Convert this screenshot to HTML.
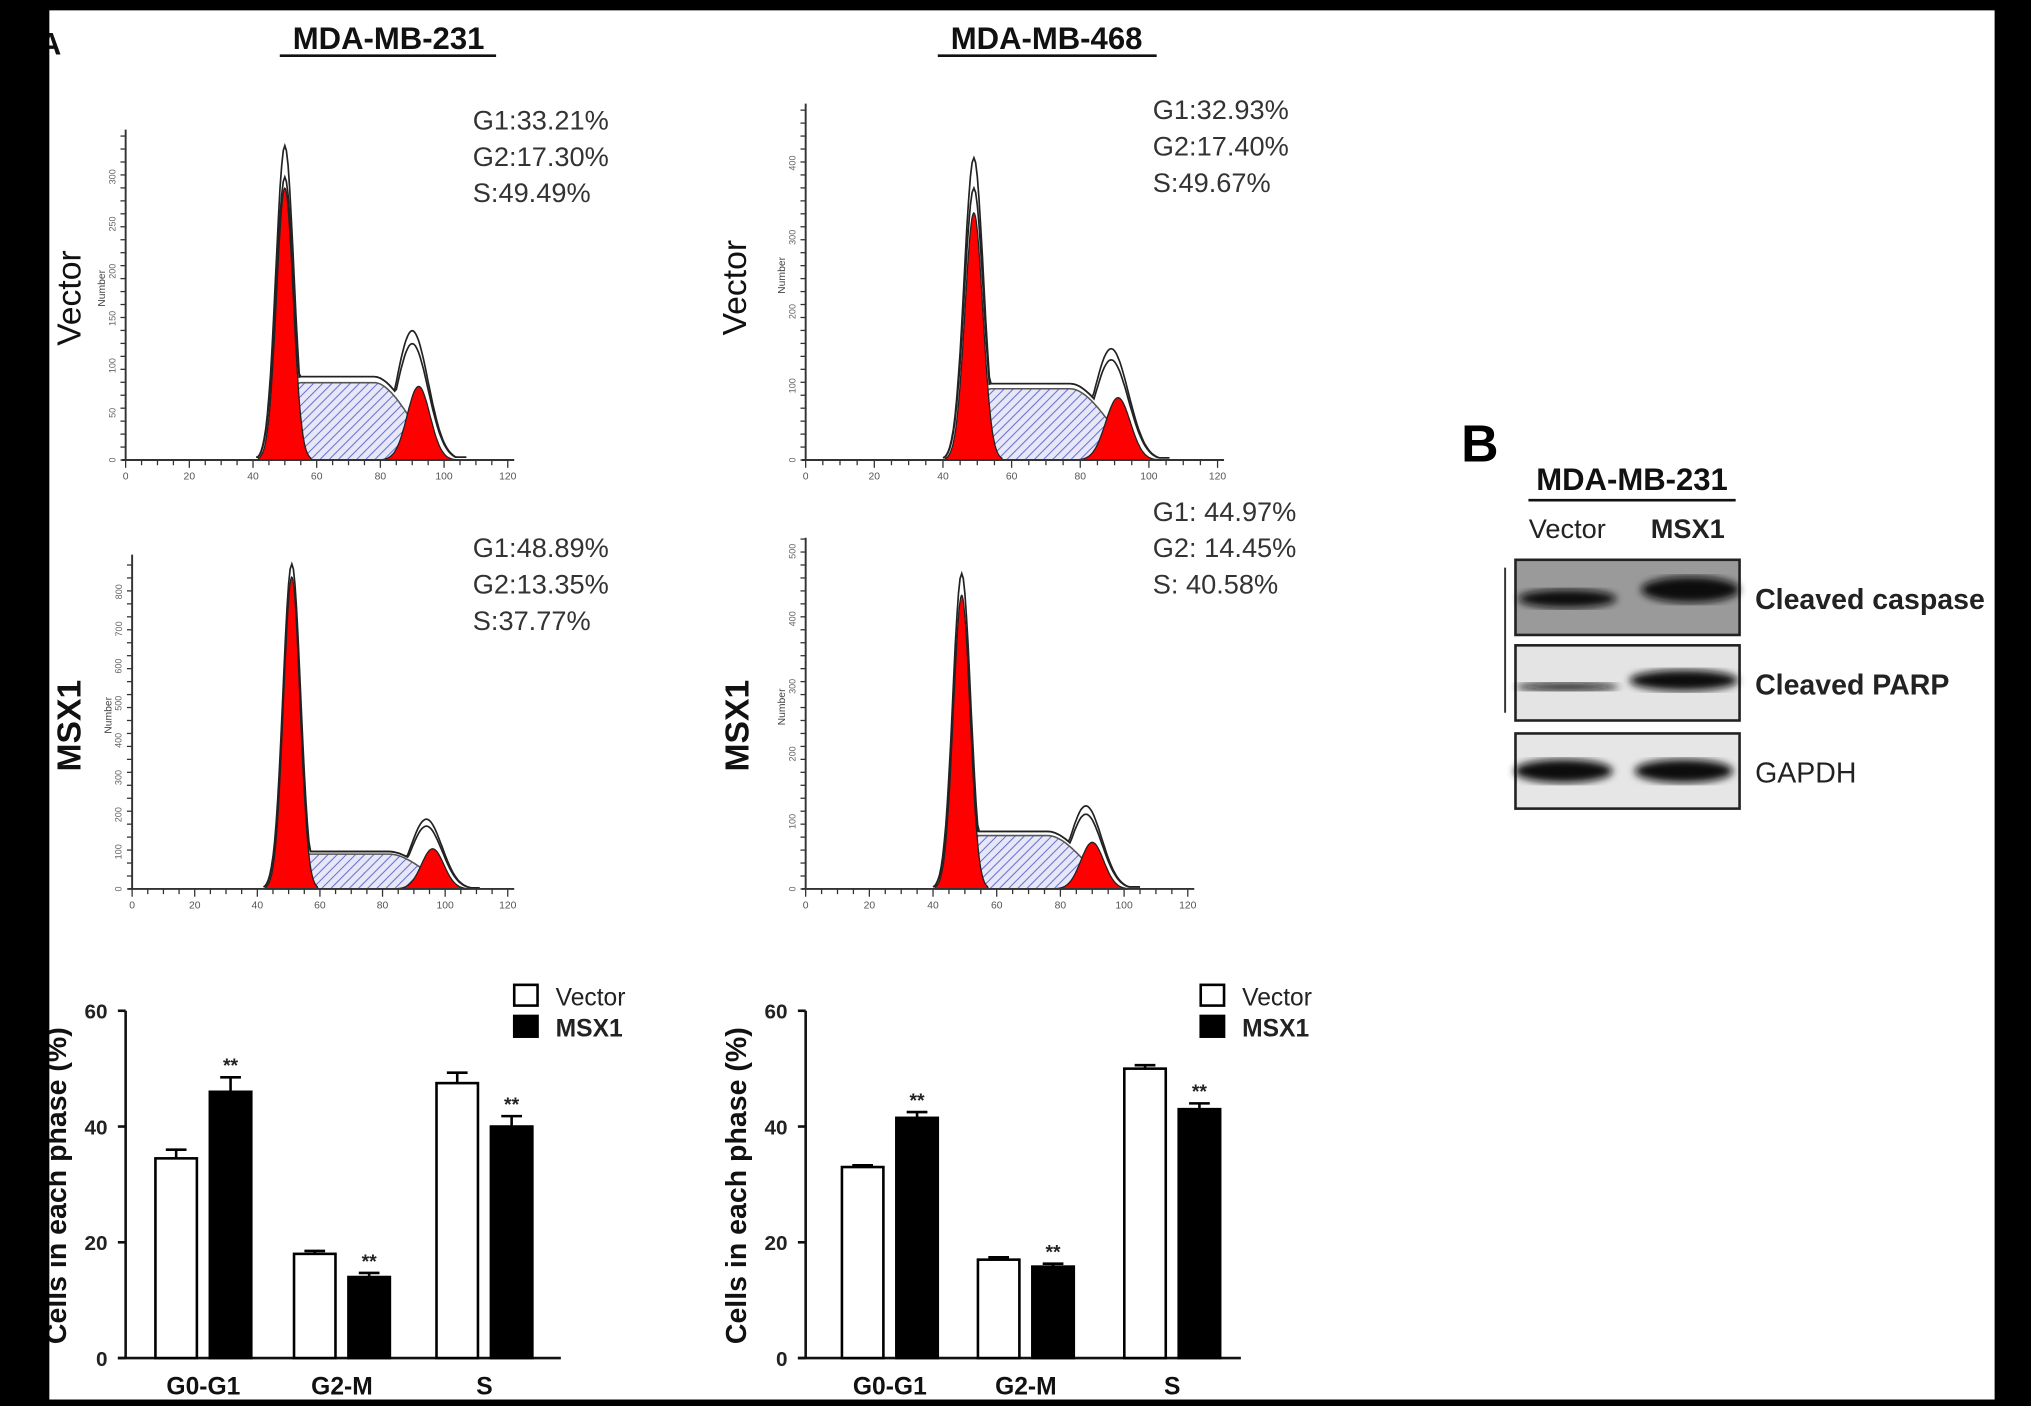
<!DOCTYPE html>
<html><head><meta charset="utf-8"><style>
html,body{margin:0;padding:0;background:#000;}
svg{display:block;}
text{font-family:"Liberation Sans",Arial,sans-serif;}
</style></head><body>
<svg id="fig" width="2031" height="1406" viewBox="0 0 1568 1085" preserveAspectRatio="none" xmlns="http://www.w3.org/2000/svg">
<defs>
<pattern id="hatch" patternUnits="userSpaceOnUse" width="5" height="5" patternTransform="rotate(45)">
<rect width="5" height="5" fill="#e6e8f8"/><line x1="0" y1="0" x2="0" y2="5" stroke="#6a6fd0" stroke-width="1.6"/>
</pattern>
<filter id="blur"><feGaussianBlur stdDeviation="3"/></filter>
</defs>
<rect x="0" y="0" width="1568" height="1085" fill="#000"/>
<rect x="38" y="8" width="1502" height="1072" fill="#fff"/>
<g id="root"></g>
</svg>
<script>
// ---------- histogram data ----------
const histNames = ["hist-231-vector","hist-468-vector","hist-231-msx1","hist-468-msx1"];
const histG1Mean = [50, 49, 51, 49];
const histG1Height = [288, 333, 840, 435];
const histOuterG1Height = [333, 407, 875, 467];
const histG2Mean = [92, 91, 96, 90];
const histG2Height = [78, 84, 108, 69];
const histOuterG2Height = [137, 150, 188, 123];
const histSHeight = [82, 96, 94, 79];
const histYMax = [350, 480, 900, 520];
const histYTicks = [[0,50,100,150,200,250,300],[0,100,200,300,400],[0,100,200,300,400,500,600,700,800],[0,100,200,300,400,500]];
const histXTicks = [0,20,40,60,80,100,120];
const histStats = [["G1:33.21%","G2:17.30%","S:49.49%"],["G1:32.93%","G2:17.40%","S:49.67%"],["G1:48.89%","G2:13.35%","S:37.77%"],["G1: 44.97%","G2: 14.45%","S:    40.58%"]];
// layout (not data)
const histBox = [
 {x0:97,x1:397,y0:355,y1:100,sx:380,sy:100},
 {x0:622,x1:945,y0:355,y1:80,sx:905,sy:92},
 {x0:102,x1:397,y0:686,y1:428,sx:380,sy:430},
 {x0:622,x1:922,y0:686,y1:415,sx:905,sy:402}
];
// ---------- bar chart data ----------
const barCategories = ["G0-G1","G2-M","S"];
const barVector231 = [34.5, 18, 47.5];
const barMsx231 = [46, 14, 40];
const barErrV231 = [1.5, 0.5, 1.8];
const barErrM231 = [2.5, 0.7, 1.8];
const barVector468 = [33, 17, 50];
const barMsx468 = [41.5, 15.8, 43];
const barErrV468 = [0.3, 0.4, 0.6];
const barErrM468 = [1, 0.5, 1];
const barYTicks = [0,20,40,60];

const NS="http://www.w3.org/2000/svg";
const root=document.getElementById('root');
function el(tag,attrs,parent,txt){const e=document.createElementNS(NS,tag);for(const k in attrs)e.setAttribute(k,attrs[k]);if(txt!==undefined)e.textContent=txt;(parent||root).appendChild(e);return e;}

// titles
let t=el('text',{x:300,y:38,'font-size':24,'font-weight':'bold','text-anchor':'middle',fill:'#111'},root,'MDA-MB-231');


let u=el('line',{x1:216,y1:43,x2:383,y2:43,stroke:'#111','stroke-width':2});


t=el('text',{x:808,y:38,'font-size':24,'font-weight':'bold','text-anchor':'middle',fill:'#111'},root,'MDA-MB-468');


u=el('line',{x1:724,y1:43,x2:893,y2:43,stroke:'#111','stroke-width':2});


t=el('text',{x:30,y:42,'font-size':24,'font-weight':'bold',fill:'#111'},root,'A');



// row labels
[["Vector",62,230,'row-label-vector-231'],["Vector",576,222,'row-label-vector-468'],["MSX1",62,560,'row-label-msx1-231'],["MSX1",578,560,'row-label-msx1-468']].forEach(r=>{
 const e=el('text',{x:r[1],y:r[2],'font-size':26,'font-weight':r[0]==='MSX1'?'bold':'normal','text-anchor':'middle',fill:'#111',transform:`rotate(-90 ${r[1]} ${r[2]})`},root,r[0]);
 
 
});

function gauss(x,m,s){return Math.exp(-0.5*((x-m)/s)**2);}
function smooth(a,b,x){if(x<=a)return 0;if(x>=b)return 1;const t=(x-a)/(b-a);return t*t*(3-2*t);}

for(let i=0;i<4;i++){
 const b=histBox[i];
 const g=el('g',{});
 
 
 const X=v=>b.x0+(v/120)*(b.x1-b.x0-5);
 const Y=v=>b.y0-(v/histYMax[i])*(b.y0-b.y1);
 const m1=histG1Mean[i],m2=histG2Mean[i];
 const sF=x=>histSHeight[i]*smooth(m1-7,m1+5,x)*(1-smooth(m2-14,m2+10,x));
 const g1F=x=>histG1Height[i]*gauss(x,m1,2.6);
 const g2F=x=>histG2Height[i]*gauss(x,m2,3.6);
 // outer envelopes (two lines) drawn first
 for(let k=0;k<2;k++){
  const sc=k===0?1:0.9;
  let de='';
  for(let x=m1-9;x<=m2+15;x+=0.5){
   const v=Math.max(histOuterG1Height[i]*sc*gauss(x,m1,2.8), sF(x)*1.04+3, histOuterG2Height[i]*sc*gauss(x,m2-2,5), 0);
   de+=(de?' L':'M')+X(x).toFixed(1)+','+Y(v).toFixed(1);
  }
  const ol=el('path',{d:de,fill:'none',stroke:'#222','stroke-width':1.3},g);
  
  
 }
 // S hatched
 let d=`M${X(m1-8)},${Y(0)}`;
 for(let x=m1-8;x<=m2+11;x+=0.5)d+=` L${X(x).toFixed(1)},${Y(sF(x)).toFixed(1)}`;
 d+=` L${X(m2+11)},${Y(0)} Z`;
 let p=el('path',{d,fill:'url(#hatch)',stroke:'#555','stroke-width':1.2},g);
 
 
 [[g1F,m1,2.6*3.2,'g1-peak'],[g2F,m2,3.6*3.2,'g2-peak']].forEach(([f,m,w,nm])=>{
  let dd=`M${X(m-w)},${Y(0)}`;
  for(let x=m-w;x<=m+w;x+=0.25)dd+=` L${X(x).toFixed(1)},${Y(f(x)).toFixed(1)}`;
  dd+=` L${X(m+w)},${Y(0)} Z`;
  const rp=el('path',{d:dd,fill:'#f00',stroke:'#222','stroke-width':1},g);
  
  
 });
 // axes
 let a=el('line',{x1:b.x0,y1:b.y0,x2:b.x0,y2:b.y1,stroke:'#333','stroke-width':1.5},g);
 
 
 a=el('line',{x1:b.x0-3,y1:b.y0,x2:b.x1,y2:b.y0,stroke:'#333','stroke-width':1.5},g);
 
 
 for(let v=0;v<=120;v+=5){const tk=el('line',{x1:X(v),y1:b.y0,x2:X(v),y2:b.y0+(v%20===0?6:4),stroke:'#333','stroke-width':1},g);}
 histXTicks.forEach(v=>{const tl=el('text',{x:X(v),y:b.y0+15,'font-size':8,'text-anchor':'middle',fill:'#555'},g,String(v));});
 for(let px=b.y0;px>=b.y1;px-=10){const tk=el('line',{x1:b.x0-4,y1:px,x2:b.x0,y2:px,stroke:'#333','stroke-width':1},g);}
 histYTicks[i].forEach(v=>{const yy=Y(v);const tl=el('text',{x:b.x0-8,y:yy,'font-size':7,'text-anchor':'middle',fill:'#666',transform:`rotate(-90 ${b.x0-8} ${yy})`},g,String(v));});
 const yt=el('text',{x:b.x0-16,y:(b.y0+b.y1)/2-5,'font-size':8,'text-anchor':'middle',fill:'#444',transform:`rotate(-90 ${b.x0-16} ${(b.y0+b.y1)/2-5})`},g,'Number');
 
 
 histStats[i].forEach((s,j)=>{const st=el('text',{x:b.sx-15,y:b.sy+j*28,'font-size':21,fill:'#333'},g,s);});
}

// ---------- bar charts ----------
function barChart(name,ax,vec,msx,ev,em,groupX,legX){
 const g=el('g',{});
 
 
 const y0=1048,y60=780;
 const Y=v=>y0-(v/60)*(y0-y60);
 let a=el('line',{x1:ax,y1:y0,x2:ax,y2:y60,stroke:'#111','stroke-width':2},g);
 
 
 a=el('line',{x1:ax-6,y1:y0,x2:ax+336,y2:y0,stroke:'#111','stroke-width':2},g);
 
 
 barYTicks.forEach(v=>{
  const tk=el('line',{x1:ax-6,y1:Y(v),x2:ax,y2:Y(v),stroke:'#111','stroke-width':2},g);
  
  
  const tl=el('text',{x:ax-14,y:Y(v)+6,'font-size':16,'font-weight':'bold','text-anchor':'end',fill:'#222'},g,String(v));
  
  
 });
 const yt=el('text',{x:ax-46,y:915,'font-size':22,'font-weight':'bold','text-anchor':'middle',fill:'#111',transform:`rotate(-90 ${ax-46} 915)`},g,'Cells in each phase (%)');
 
 
 const bw=32;
 barCategories.forEach((c,k)=>{
  const gx=ax+groupX[k];
  [[vec[k],ev[k],'#fff',gx,'bar-vector-'+c],[msx[k],em[k],'#000',gx+bw+10,'bar-msx1-'+c]].forEach(([v,e,f,x,nm])=>{
   const er=el('line',{x1:x+bw/2,y1:Y(v),x2:x+bw/2,y2:Y(v+e),stroke:'#000','stroke-width':2},g);
   
   
   const ec=el('line',{x1:x+bw/2-8,y1:Y(v+e),x2:x+bw/2+8,y2:Y(v+e),stroke:'#000','stroke-width':2},g);
   
   
   const r=el('rect',{x:x,y:Y(v),width:bw,height:y0-Y(v),fill:f,stroke:'#000','stroke-width':2},g);
   
   
   if(f==='#000'){const s=el('text',{x:x+bw/2,y:Y(v+e)-4,'font-size':15,'font-weight':'bold','text-anchor':'middle',fill:'#222'},g,'**');}
  });
  const cl=el('text',{x:gx+bw+5,y:1076,'font-size':19,'font-weight':'bold','text-anchor':'middle',fill:'#111'},g,c);
  
  
 });
 let lr=el('rect',{x:legX,y:760,width:18,height:16,fill:'#fff',stroke:'#000','stroke-width':2},g);
 
 
 let lt=el('text',{x:legX+32,y:776,'font-size':19,fill:'#222'},g,'Vector');
 
 
 lr=el('rect',{x:legX,y:784,width:18,height:16,fill:'#000',stroke:'#000','stroke-width':2},g);
 
 
 lt=el('text',{x:legX+32,y:800,'font-size':19,'font-weight':'bold',fill:'#222'},g,'MSX1');
 
 
}
barChart('bar-chart-231',97,barVector231,barMsx231,barErrV231,barErrM231,[23,130,240],397);
barChart('bar-chart-468',622,barVector468,barMsx468,barErrV468,barErrM468,[28,133,246],927);

// ---------- western blot ----------
const wb=el('g',{});


t=el('text',{x:1128,y:356,'font-size':40,'font-weight':'bold',fill:'#000'},wb,'B');


t=el('text',{x:1260,y:378,'font-size':24,'font-weight':'bold','text-anchor':'middle',fill:'#111'},wb,'MDA-MB-231');


u=el('line',{x1:1180,y1:386,x2:1340,y2:386,stroke:'#111','stroke-width':2},wb);


t=el('text',{x:1210,y:415,'font-size':21,'text-anchor':'middle',fill:'#222'},wb,'Vector');


t=el('text',{x:1303,y:415,'font-size':21,'font-weight':'bold','text-anchor':'middle',fill:'#222'},wb,'MSX1');


u=el('line',{x1:1162,y1:438,x2:1162,y2:550,stroke:'#333','stroke-width':1.5},wb);


const blots=[["Cleaved caspase",432,'#9a9a9a',[[1210,462,38,7],[1305,455,38,10]],true],["Cleaved PARP",498,'#e4e4e4',[[1210,530,40,3],[1300,525,42,8]],true],["GAPDH",566,'#e6e6e6',[[1207,595,38,9],[1300,595,38,9]],false]];
blots.forEach(([lab,y,bg,bands,bold])=>{
 const r=el('rect',{x:1170,y:y,width:173,height:58,fill:bg,stroke:'#222','stroke-width':2},wb);
 
 
 bands.forEach(([cx,cy,rx,ry])=>{const e=el('ellipse',{cx,cy,rx,ry,fill:'#0a0a0a',filter:'url(#blur)'},wb);});
 const l=el('text',{x:1355,y:y+38,'font-size':22,'font-weight':bold?'bold':'normal',fill:'#222'},wb,lab);
 
 
});
const rb=el('rect',{x:1540,y:0,width:28,height:1085,fill:'#000'});


const lb=el('rect',{x:0,y:0,width:38,height:1085,fill:'#000'});


</script>
</body></html>
